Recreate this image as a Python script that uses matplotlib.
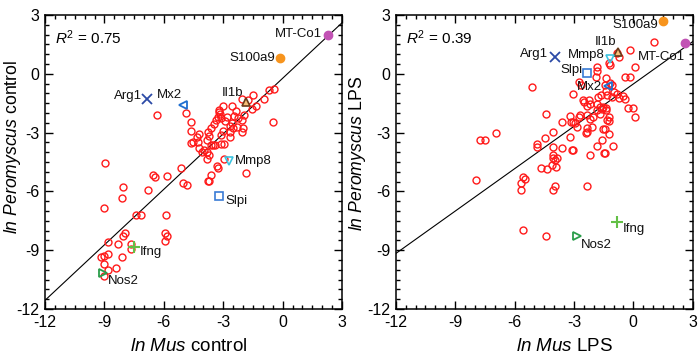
import matplotlib
matplotlib.use("Agg")
import matplotlib.pyplot as plt
from matplotlib.ticker import MultipleLocator, FixedLocator, FixedFormatter

plt.rcParams['font.family'] = ['Liberation Sans', 'DejaVu Sans']
plt.rcParams['mathtext.fontset'] = 'custom'
plt.rcParams['mathtext.rm'] = 'Liberation Sans'
plt.rcParams['mathtext.it'] = 'Liberation Sans:italic'
plt.rcParams['axes.unicode_minus'] = False

# ---------------- data: control panel ----------------
ctrl_mus = [-6.36, -4.89, -4.61, -4.61, -4.22, -4.34, -4.51, -4.64, -4.21, -4.09, -3.97, -3.84,
            -3.72, -3.84, -3.60, -3.50, -3.41, -3.84, -3.78, -3.60, -3.70, -3.38, -3.28, -3.03,
            -3.23, -3.16, -3.11, -2.92, -2.57, -2.37, -2.44, -2.54, -2.66, -2.27, -3.13, -2.99,
            -3.13, -2.94, -2.66, -2.66, -2.49, -2.29, -2.02, -2.05, -2.04, -1.95, -2.07, -1.73,
            -1.48, -1.53, -1.34, -0.92, -0.67, -0.43, -0.47, -2.96, -3.33, -3.25, -3.62, -1.85,
            -5.13, -5.85, -6.56, -6.44, -8.95, -5.02, -4.84, -3.75, -4.26, -3.20, -3.45, -2.80,
            -8.05, -8.10, -9.00, -6.81, -7.42, -7.17, -5.89, -5.94, -5.85, -5.94, -7.96, -8.05,
            -8.80, -8.30, -7.66, -7.66, -8.10, -8.83, -9.02, -9.19, -9.00, -8.41, -8.80, -9.00,
            -3.70]
ctrl_pero = [-2.10, -1.98, -2.46, -2.90, -3.07, -3.24, -3.46, -3.51, -3.80, -3.97, -3.89, -3.97,
             -4.14, -4.33, -3.65, -3.65, -3.65, -3.38, -2.95, -2.75, -3.17, -2.36, -2.20, -1.64,
             -1.85, -2.05, -2.26, -2.39, -1.64, -1.88, -2.15, -2.53, -2.66, -2.24, -3.12, -2.90,
             -3.58, -3.60, -2.95, -3.24, -2.78, -2.70, -2.77, -2.98, -2.36, -2.10, -1.30, -1.34,
             -1.08, -1.81, -1.64, -1.30, -0.83, -0.79, -2.46, -4.36, -4.69, -4.82, -5.16, -5.08,
             -4.79, -5.19, -5.15, -5.28, -4.57, -5.59, -5.69, -5.47, -3.49, -1.93, -2.55, -2.20,
             -5.76, -6.35, -6.83, -5.93, -7.20, -7.22, -7.19, -8.14, -8.28, -8.53, -8.11, -8.28,
             -8.58, -8.70, -8.70, -8.92, -9.35, -9.18, -9.31, -9.35, -9.72, -9.89, -10.03, -10.32,
             -5.45]

# ---------------- data: LPS panel ----------------
lps_mus = [-5.13, 1.05, -0.17, 0.09, -0.84, -0.71, -1.21, -1.18, -1.85, -1.83, -1.88, -1.38,
           -2.73, -2.66, -3.03, -2.53, -2.47, -2.22, -2.32, -2.19, -1.77, -1.43, -1.09, -1.18,
           -1.38, -1.00, -0.84, -0.50, -0.42, -0.70, -1.10, -0.42, -0.17, -0.25, 0.00, 0.09,
           -1.52, -1.38, -1.60, -1.85, -1.70, -2.02, -2.32, -2.19, -2.74, -2.70, -3.14, -3.03,
           -2.94, -3.20, -3.59, -4.41, -4.04, -4.44, -4.85, -4.85, -4.07, -3.60, -3.19, -3.08,
           -3.03, -2.86, -2.35, -2.10, -2.32, -2.19, -1.85, -1.60, -1.43, -1.21, -1.43, -1.01,
           -1.21, -1.25, -1.31, -1.38, -4.04, -3.95, -4.12, -4.37, -4.68, -3.92, -4.07, -3.87,
           -5.55, -5.47, -5.69, -5.69, -7.94, -7.74, -7.49, -6.93, -5.56, -3.95, -4.04, -2.32,
           -4.41, -1.52, -1.46, -2.38, -1.82, -1.68, -1.34, -1.65]
lps_pero = [-0.66, 1.64, 1.21, 0.36, 1.05, 0.87, 0.54, 0.45, 0.36, 0.14, -0.15, -0.23,
            -0.40, -0.57, -1.05, -1.34, -1.45, -1.34, -1.64, -1.52, -1.17, -0.57, -0.57, -0.49,
            -0.90, -0.95, -1.05, -1.15, -1.30, -1.25, -1.20, -0.18, -0.18, -1.76, -1.76, -2.19,
            -1.68, -1.85, -1.80, -1.85, -2.05, -2.19, -2.10, -2.32, -2.20, -2.08, -2.46, -2.44,
            -2.53, -2.15, -2.47, -2.07, -2.95, -3.29, -3.60, -3.72, -3.72, -3.80, -3.21, -3.89,
            -3.89, -2.70, -2.75, -2.70, -2.99, -4.14, -3.68, -3.38, -2.83, -3.09, -4.06, -3.67,
            -2.19, -2.40, -2.36, -1.76, -4.14, -4.39, -4.65, -4.84, -4.79, -4.77, -4.31, -4.31,
            -5.25, -5.38, -5.59, -5.93, -5.42, -3.38, -3.38, -3.00, -7.97, -5.72, -5.93, -5.72,
            -8.28, -2.83, -4.03, -3.04, -1.54, -1.68, -1.08, -1.08]

# highlighted genes
genes = ['MT-Co1', 'S100a9', 'Arg1', 'Mx2', 'Il1b', 'Mmp8', 'Slpi', 'Ifng', 'Nos2']
ctrl_gene_mus = [2.28, -0.13, -6.85, -5.05, -1.85, -2.72, -3.20, -7.49, -9.09]
ctrl_gene_pero = [2.00, 0.79, -1.30, -1.58, -1.44, -4.47, -6.23, -8.84, -10.18]
lps_gene_mus = [2.61, 1.52, -3.95, -1.26, -0.76, -1.18, -2.35, -0.84, -2.86]
lps_gene_pero = [1.59, 2.71, 0.87, -0.62, 1.13, 0.74, 0.06, -7.56, -8.28]

# regression lines (slope, intercept) and R^2
ctrl_fit = (0.944, -0.23)
lps_fit = (0.721, -0.52)
r2_values = ['0.75', '0.39']

ticks = [-12, -9, -6, -3, 0, 3]
tick_labels = ['-12', '-9', '-6', '-3', '0', '3']

gene_style = {
    'MT-Co1': dict(marker='o', mfc='#c252b4', mec='#c252b4', ms=6),
    'S100a9': dict(marker='o', mfc='#f7941d', mec='#f7941d', ms=6),
    'Arg1': dict(marker='x', mfc='none', mec='#2b4aa6', ms=7, mew=1.3),
    'Mx2': dict(marker='<', mfc='none', mec='#1f6fd0', ms=6, mew=1.3),
    'Il1b': dict(marker='^', mfc='#f5c07a', mec='#6b3a1a', ms=6, mew=1.2),
    'Mmp8': dict(marker='v', mfc='none', mec='#3cc4e0', ms=6, mew=1.2),
    'Slpi': dict(marker='s', mfc='none', mec='#3a7bd5', ms=6, mew=1.2),
    'Ifng': dict(marker='+', mfc='none', mec='#63c046', ms=8, mew=1.5),
    'Nos2': dict(marker='>', mfc='none', mec='#2a9d4a', ms=6, mew=1.3),
}

ctrl_offsets = {
    'MT-Co1': (-6, 1, 'right'), 'S100a9': (-5, 0, 'right'), 'Arg1': (-5, 3, 'right'),
    'Mx2': (-1, 10, 'right'), 'Il1b': (-3, 9, 'right'), 'Mmp8': (6, 0, 'left'),
    'Slpi': (6, -5, 'left'), 'Ifng': (5, -5, 'left'), 'Nos2': (5, -8, 'left'),
}
lps_offsets = {
    'MT-Co1': (0, -14, 'right'), 'S100a9': (-5, -4, 'right'), 'Arg1': (-7, 3, 'right'),
    'Mx2': (-6, -1, 'right'), 'Il1b': (-2, 10, 'right'), 'Mmp8': (-5, 4, 'right'),
    'Slpi': (-4, 3, 'right'), 'Ifng': (6, -7, 'left'), 'Nos2': (4, -9, 'left'),
}

fig = plt.figure(figsize=(7.0, 3.62), dpi=100)
W, H = 700, 362
ax1 = fig.add_axes([45 / W, (H - 309) / H, 297 / W, 294 / H])
ax2 = fig.add_axes([395.7 / W, (H - 309) / H, 297 / W, 294 / H])

panels = [
    (ax1, ctrl_mus, ctrl_pero, ctrl_gene_mus, ctrl_gene_pero, ctrl_fit, ctrl_offsets, 'control',
     r2_values[0], (0.4825, -0.100), (-0.074, 0.551)),
    (ax2, lps_mus, lps_pero, lps_gene_mus, lps_gene_pero, lps_fit, lps_offsets, 'LPS',
     r2_values[1], (0.567, -0.100), (-0.093, 0.529)),
]

for ax, xm, yp, gx, gy, fit, offs, cond, r2, xlc, ylc in panels:
    ax.set_xlim(-12, 3)
    ax.set_ylim(-12, 3)
    xs = [-12, 3]
    slope, icpt = fit
    ax.plot(xs, [slope * v + icpt for v in xs], color='black', lw=0.8, zorder=2)
    ax.plot(xm, yp, linestyle='none', marker='o', ms=5, mfc='none', mec='#ff1a1a', mew=1.0, zorder=3)
    for g, x, y in zip(genes, gx, gy):
        st = dict(gene_style[g])
        ax.plot([x], [y], linestyle='none', zorder=4, **st)
        dx, dy, ha = offs[g]
        ax.annotate(g, (x, y), xytext=(dx, dy), textcoords='offset pixels',
                    ha=ha, va='center', fontsize=9.5, color='#111111', zorder=5)
    ax.text(0.035, 0.955, r'$R^2$ = ' + r2, transform=ax.transAxes, ha='left', va='top', fontsize=11)
    ax.xaxis.set_major_locator(FixedLocator(ticks))
    ax.xaxis.set_major_formatter(FixedFormatter(tick_labels))
    ax.yaxis.set_major_locator(FixedLocator(ticks))
    ax.yaxis.set_major_formatter(FixedFormatter(tick_labels))
    ax.xaxis.set_minor_locator(MultipleLocator(0.5))
    ax.yaxis.set_minor_locator(MultipleLocator(0.5))
    ax.tick_params(which='both', direction='in', top=True, right=True, width=1.0)
    ax.tick_params(which='major', length=6, labelsize=11.5, pad=4)
    ax.tick_params(which='minor', length=3)
    for s in ax.spines.values():
        s.set_linewidth(1.1)
    ax.set_xlabel(r'$\it{ln\ Mus}$ ' + cond, fontsize=13.5)
    ax.set_ylabel(r'$\it{ln\ Peromyscus}$ ' + cond, fontsize=12.7)
    ax.xaxis.set_label_coords(*xlc)
    ax.yaxis.set_label_coords(*ylc)

fig.savefig('out.png', dpi=100)
